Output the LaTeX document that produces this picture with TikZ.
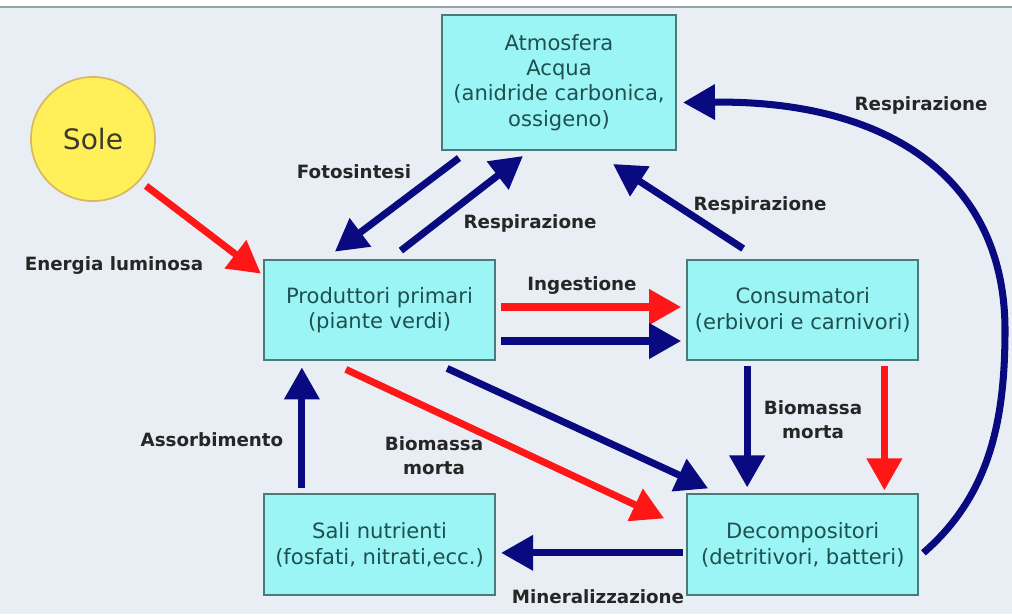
\documentclass[tikz,border=0pt]{standalone}
\usepackage{fontspec}
\setmainfont{DejaVu Sans}
\usepackage{xcolor}
\usetikzlibrary{arrows.meta,positioning,shapes}
\definecolor{sfondo}{RGB}{232,238,243}
\definecolor{ciano}{RGB}{156,245,245}
\definecolor{bordo}{RGB}{74,122,122}
\definecolor{testo}{RGB}{30,80,80}
\definecolor{blu}{RGB}{10,10,128}
\definecolor{rosso}{RGB}{255,22,22}
\definecolor{giallo}{RGB}{255,240,90}
\definecolor{oro}{RGB}{215,185,100}
\definecolor{cornice}{RGB}{150,165,165}

\begin{document}
\begin{tikzpicture}[x=0.025cm,y=-0.025cm]

\tikzstyle{block} = [draw=bordo, line width=1.4pt, fill=ciano, rectangle, minimum width=5.78cm, minimum height=2.52cm, inner sep=2pt, align=center, text=testo, font=\fontsize{15}{18}\selectfont]
\tikzstyle{lbl} = [align=center, text=black!85, font=\fontsize{13}{17}\selectfont\bfseries]
\tikzstyle{frecciablu} = [draw=blu, line width=5pt, -{Triangle[length=0.8cm,width=0.85cm]}]
\tikzstyle{frecciarossa} = [frecciablu, draw=rosso]

\useasboundingbox (0,0) rectangle (1012,614);
\fill [sfondo] (0,0) rectangle (1012,614);
\fill [white] (0,0) rectangle (1012,6);
\draw [cornice, line width=1.5pt] (0,7) -- (1012,7);

\node [block, minimum width=5.85cm, minimum height=3.375cm] (atmo) at (559,82.5) {Atmosfera\\Acqua\\(anidride carbonica,\\ossigeno)};
\node [block] (prod) at (379.5,310) {Produttori primari\\(piante verdi)};
\node [block, right = 4.75cm of prod] (cons) {Consumatori\\(erbivori e carnivori)};
\node [block, below = 3.3cm of cons] (decomp) {Decompositori\\(detritivori, batteri)};
\node [block, below = 3.3cm of prod] (sali) {Sali nutrienti\\(fosfati, nitrati,ecc.)};
\node [circle, draw=oro, line width=1.2pt, fill=giallo, minimum size=3.1cm, text=black!75!olive, font=\fontsize{20}{24}\selectfont] (sole) at (93,139) {Sole};

\node [lbl] (energia) at (114,266) {Energia luminosa};
\node [lbl] (foto) at (354,172) {Fotosintesi};
\node [lbl] (resp-prod) at (530,223) {Respirazione};
\node [lbl] (resp-cons) at (760,205) {Respirazione};
\node [lbl] (resp-decomp) at (921,105) {Respirazione};
\node [lbl] (ingestione) at (582,286) {Ingestione};
\node [lbl] (morta-prod) at (434,456) {Biomassa\\morta};
\node [lbl] (morta-cons) at (813,420) {Biomassa\\morta};
\node [lbl] (mineral) at (598,597) {Mineralizzazione};
\node [lbl] (assorb) at (212,440) {Assorbimento};

\draw [frecciarossa, shorten <=0.2cm] (sole.-42) -- ([shift={(-2,15)}]prod.north west);
\draw [frecciablu] ([shift={(18,7)}]atmo.south west) -- ([shift={(72,-7)}]prod.north west);
\draw [frecciablu] ([shift={(138,-8)}]prod.north west) -- ([shift={(82,5)}]atmo.south west);
\draw [frecciablu] ([shift={(57,-10)}]cons.north west) -- ([shift={(-64,13)}]atmo.south east);
\draw [frecciablu] ([shift={(4,8)}]decomp.east) .. controls (990,495) and (1005,420) .. (1005,330) .. controls (1005,180) and (890,100) .. ([shift={(6,20)}]atmo.east);
\draw [frecciarossa] ([shift={(5,-3)}]prod.east) -- ([shift={(-5,-3)}]cons.west);
\draw [frecciablu] ([shift={(5,31)}]prod.east) -- ([shift={(-5,31)}]cons.west);
\draw [frecciablu] ([shift={(-49,7)}]prod.south east) -- ([shift={(22,-5)}]decomp.north west);
\draw [frecciarossa] ([shift={(83,8)}]prod.south west) -- ([shift={(-22,25)}]decomp.north west);
\draw [frecciablu] ([shift={(61,5)}]cons.south west) -- ([shift={(61,-6)}]decomp.north west);
\draw [frecciarossa] ([shift={(-35,5)}]cons.south east) -- ([shift={(-35,-3)}]decomp.north east);
\draw [frecciablu] ([shift={(-3,8)}]decomp.west) -- ([shift={(5,8)}]sali.east);
\draw [frecciablu] ([shift={(39,-5)}]sali.north west) -- ([shift={(39,6)}]prod.south west);
\end{tikzpicture}
\end{document}
